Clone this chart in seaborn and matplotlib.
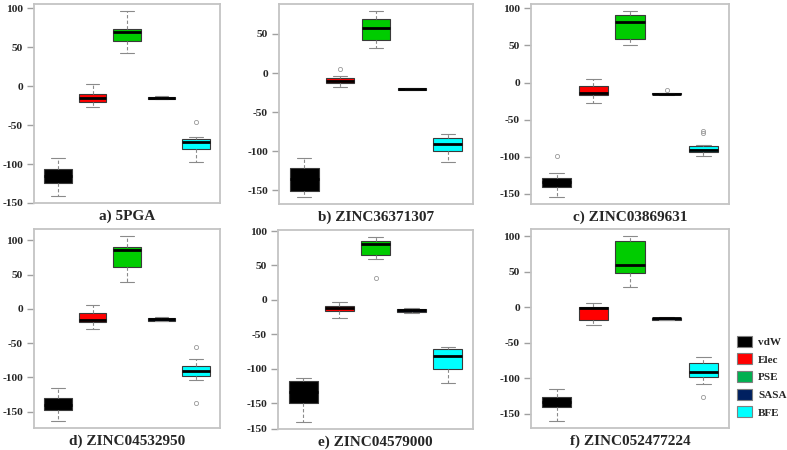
import numpy as np
import pandas as pd
import seaborn as sns
from matplotlib import pyplot as plt
from matplotlib.patches import Patch

terms = ["vdW", "Elec", "PSE", "SASA", "BFE"]
titles = ["a) 5PGA", "b) ZINC36371307", "c) ZINC03869631",
          "d) ZINC04532950", "e) ZINC04579000", "f) ZINC052477224"]

# energies (kcal/mol) per term: whisker ends, quartiles, medians, outliers
a_5pga = [
    [-140.6, -131, -124.5, -120, -116, -111, -107, -100, -92.6],
    [-26.3, -23, -20.3, -18, -15.6, -13, -10.5, -4, 3.1],
    [43, 51, 58.5, 64, 69, 71.5, 74, 85, 96],
    [-17, -16.8, -16.5, -15.8, -15, -14.2, -13.5, -13.2, -13],
    [-96.9, -88, -80.7, -76, -71.3, -69, -67.5, -65, -46.5],
]
b_zinc36371307 = [
    [-158, -154, -150.4, -142, -136, -129, -122, -115, -108.7],
    [-17.2, -15, -13, -11.5, -10.4, -8, -6.2, -4, 5.3],
    [32.6, 38, 42.8, 50, 57.2, 63, 69.1, 74, 78.9],
    [-22, -21.8, -21.5, -20.8, -20.2, -19.8, -19.4, -19, -18.5],
    [-113.8, -106, -99.4, -95, -90.9, -87, -82.8, -80.5, -78.5],
]
c_zinc03869631 = [
    [-154, -148, -141, -137, -134, -131, -128.9, -122, -98.7],
    [-27.2, -22, -16.9, -15.5, -14.2, -9, -4.8, 0, 4.2],
    [51, 55, 58.6, 70, 81.1, 87, 91.5, 94, 96],
    [-17, -16.5, -16, -15.5, -15, -14.6, -14.2, -13.5, -10.6],
    [-99.6, -97, -95.5, -94.2, -93, -92, -91.1, -89, -87, -85.7, -83.9, -68.2, -65.5],
]
d_zinc04532950 = [
    [-163, -155, -147.6, -143, -140, -135, -130.7, -123, -115.2],
    [-29.1, -24, -19, -17.5, -16, -10, -5.4, 0, 6.2],
    [39.1, 50, 60.8, 75, 86, 88, 90.3, 98, 105.8],
    [-18, -17.5, -17, -16, -15, -14.5, -14, -13, -12.5],
    [-137.4, -103.6, -97.3, -94, -91, -87, -82.8, -73.6, -55.2],
]
e_zinc04579000 = [
    [-176.6, -160, -149.2, -140, -133, -125, -117.3, -115, -113],
    [-26.3, -20, -16.1, -14, -12.3, -10.5, -8.9, -6, -3.1],
    [31.6, 60, 65.8, 75, 81.7, 84, 86, 88.5, 90.8],
    [-19, -18.2, -17.6, -16.4, -15.2, -14, -12.8, -12, -11.3],
    [-121.2, -110, -100.5, -90, -81.2, -76, -71.6, -69.5, -67.7],
]
f_zinc052477224 = [
    [-159.8, -150, -141.1, -137, -134, -130, -127.1, -121, -115],
    [-25, -21, -18, -8, -1.2, -0.8, -0.3, 3, 6.3],
    [27.7, 38, 48.2, 53, 59, 75, 92.5, 96, 99.5],
    [-18, -17.8, -17.5, -16.8, -16, -15.3, -14.7, -14.4, -14],
    [-127, -107.6, -97.8, -94, -90.8, -85, -79.1, -74, -69.8],
]
panels = [a_5pga, b_zinc36371307, c_zinc03869631,
          d_zinc04532950, e_zinc04579000, f_zinc052477224]

box_colors = ["#000000", "#ff0000", "#00cc00", "#002060", "#00ffff"]
legend_colors = ["#000000", "#ff0000", "#00b050", "#002060", "#00ffff"]

rows = []
for title, panel in zip(titles, panels):
    for term, vals in zip(terms, panel):
        for v in vals:
            rows.append((title, term, v))
df = pd.DataFrame(rows, columns=["ligand", "term", "energy"])

sns.set_style("white")
plt.rcParams["font.family"] = ["Liberation Serif", "DejaVu Serif"]
plt.rcParams["font.weight"] = "bold"

W, H = 787, 450
fig = plt.figure(figsize=(W / 100, H / 100), dpi=100)

# frame corners in pixels (left, top, right, bottom)
frames = [(34, 4, 220, 203), (279, 4, 473, 204), (531, 4, 729, 204),
          (34, 229, 220, 428), (278, 230, 473, 429), (531, 229, 729, 428)]

for title, (x0, y0, x1, y1) in zip(titles, frames):
    ax = fig.add_axes([x0 / W, 1 - y1 / H, (x1 - x0) / W, (y1 - y0) / H])
    sub = df[df["ligand"] == title]
    sns.boxplot(data=sub, x="term", y="energy", hue="term", order=terms, hue_order=terms,
                palette=dict(zip(terms, box_colors)), width=0.8, saturation=1,
                linecolor="#3a3a3a", linewidth=0.8, fliersize=3, legend=False, ax=ax,
                whiskerprops=dict(color="#8a8a8a", linestyle=(0, (3, 2))),
                capprops=dict(color="#8a8a8a"),
                medianprops=dict(color="black", linewidth=2),
                flierprops=dict(marker="o", markerfacecolor="none",
                                markeredgecolor="#999999", markeredgewidth=0.6))
    lo, hi = sub["energy"].min(), sub["energy"].max()
    pad = 0.04 * (hi - lo)
    ax.set_ylim(lo - pad, hi + pad)
    ax.set_xlim(-0.7, 4.7)
    ticks = [t for t in range(-150, 101, 50) if lo - pad <= t <= hi + pad]
    labels = [str(t) for t in ticks]
    if title.startswith("e)"):
        # the reference repeats "-150" at the bottom of this panel
        ticks.append(lo - pad)
        labels.append("-150")
    ax.set_yticks(ticks, labels, fontweight="bold", fontsize=8.2)
    ax.set_xticks([])
    ax.set_xlabel("")
    ax.set_ylabel("")
    ax.tick_params(axis="y", left=True, length=5, width=1, color="#a0a0a0", pad=3)
    for s in ax.spines.values():
        s.set_color("#c4c4c4")
        s.set_linewidth(1.3)
    ax.annotate(title, xy=(0.5, 0), xycoords="axes fraction", xytext=(0, -9.5),
                textcoords="offset points", ha="center", va="center",
                fontsize=11, fontweight="bold")

handles = [Patch(facecolor=c, edgecolor="#7f7f7f", linewidth=0.8) for c in legend_colors]
leg = fig.legend(handles, terms, loc="upper left", bbox_to_anchor=(737 / W, 1 - 335.5 / H),
                 frameon=False, fontsize=8, borderpad=0, borderaxespad=0,
                 handlelength=1.35, handleheight=1.17, handletextpad=0.55, labelspacing=0.57)
for t in leg.get_texts():
    t.set_fontweight("bold")

fig.savefig("out.png", dpi=100)
